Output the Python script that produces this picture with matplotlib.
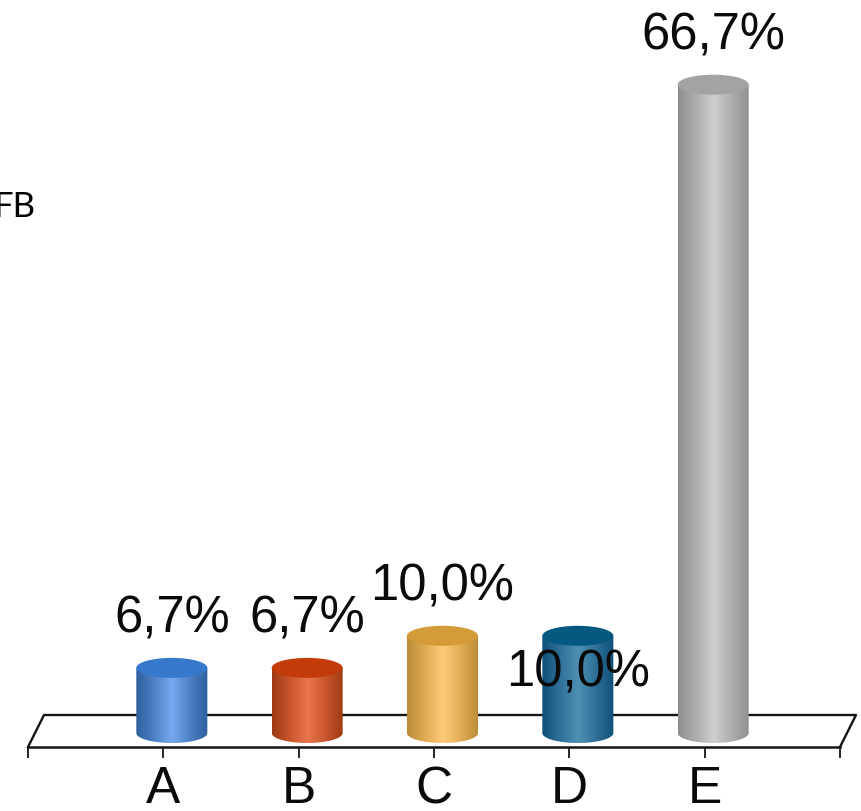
import numpy as np
import matplotlib
matplotlib.use("Agg")
import matplotlib.pyplot as plt
from matplotlib.colors import LinearSegmentedColormap
from matplotlib.patches import Ellipse, PathPatch
from matplotlib.path import Path

categories = ["A", "B", "C", "D", "E"]
values = [6.7, 6.7, 10.0, 10.0, 66.7]
value_labels = ["6,7%", "6,7%", "10,0%", "10,0%", "66,7%"]

# side-edge, mid and centre shades of each cylinder, then its cap colour
edge_colors = ["#2f5f9e", "#9c3a14", "#b98a35", "#0f4f78", "#8e8e8e"]
mid_colors = ["#4d80c4", "#c9562c", "#e0ac55", "#2f7099", "#adadad"]
centre_colors = ["#76a9f0", "#e8754c", "#fdca7a", "#4f8fb2", "#cfcfcf"]
cap_colors = ["#3678cc", "#c33b08", "#d49c38", "#05587f", "#a3a3a3"]

# extra downward shift of a value label, in points
label_drop = [0, 0, 0, 62, 0]

W, H = 862, 811
PX_PER_UNIT = 9.72
PX_PER_SLOT = 135.33
AXIS_LEFT, AXIS_RIGHT, AXIS_Y = 28, 840, 747

plt.rcParams["font.family"] = ["Liberation Sans", "DejaVu Sans"]
fig = plt.figure(figsize=(W / 100, H / 100), dpi=100)
ax = fig.add_axes([AXIS_LEFT / W, 1 - AXIS_Y / H,
                   (AXIS_RIGHT - AXIS_LEFT) / W, AXIS_Y / H])
ax.patch.set_alpha(0)

# conversions from pixels to data units for the oblique floor and cylinders
px_x = 1 / PX_PER_SLOT
px_y = 1 / PX_PER_UNIT
half_w = 35.5 * px_x
half_h = 10 * px_y
depth_x = 8.5 * px_x
depth_y = 14 * px_y

ramp = np.linspace(0, 1, 256)[None, :]
for i, v in enumerate(values):
    cx = i + depth_x
    cmap = LinearSegmentedColormap.from_list(
        f"cyl{i}",
        [edge_colors[i], mid_colors[i], centre_colors[i], mid_colors[i], edge_colors[i]],
    )
    t = np.linspace(np.pi, 2 * np.pi, 60)
    bottom = np.column_stack([cx + half_w * np.cos(t), depth_y + half_h * np.sin(t)])
    outline = np.vstack([bottom,
                         [cx + half_w, depth_y + v],
                         [cx - half_w, depth_y + v],
                         bottom[0]])
    clip = PathPatch(Path(outline), fc="none", ec="none")
    ax.add_patch(clip)
    im = ax.imshow(ramp, cmap=cmap, aspect="auto", zorder=3,
                   extent=(cx - half_w, cx + half_w, 0, depth_y + v))
    im.set_clip_path(clip)
    ax.add_patch(Ellipse((cx, depth_y + v), 2 * half_w, 2 * half_h,
                         fc=cap_colors[i], ec="none", zorder=4))
    ax.annotate(value_labels[i], (cx, depth_y + v + half_h),
                xytext=(0, 18 - label_drop[i]), textcoords="offset points",
                ha="center", va="baseline", fontsize=36.5, color="#0a0a0a", zorder=6)

# floor: back edge and the two slanted sides
floor_x = 16 * px_x
floor_y = 32 * px_y
ax.plot([-1, -1 + floor_x, 5 + floor_x, 5], [0, floor_y, floor_y, 0],
        color="#151515", lw=1.7, zorder=1, clip_on=False)

ax.set_xlim(-1, 5)
ax.set_ylim(0, AXIS_Y * px_y)
ax.set_xticks(range(-1, 6))
ax.set_xticklabels([""] + categories + [""], fontsize=37, color="#0a0a0a")
ax.set_yticks([])
ax.tick_params(axis="x", length=8, width=1.3, color="#151515", pad=5)
for side in ("top", "left", "right"):
    ax.spines[side].set_visible(False)
ax.spines["bottom"].set_linewidth(1.8)
ax.spines["bottom"].set_color("#151515")

# stray caption running off the left edge of the figure
fig.text(36 / W, 1 - 217 / H, "FB", family="Lato", fontsize=25,
         ha="right", va="baseline", color="black")

fig.savefig("out.png", dpi=100, facecolor="white")
